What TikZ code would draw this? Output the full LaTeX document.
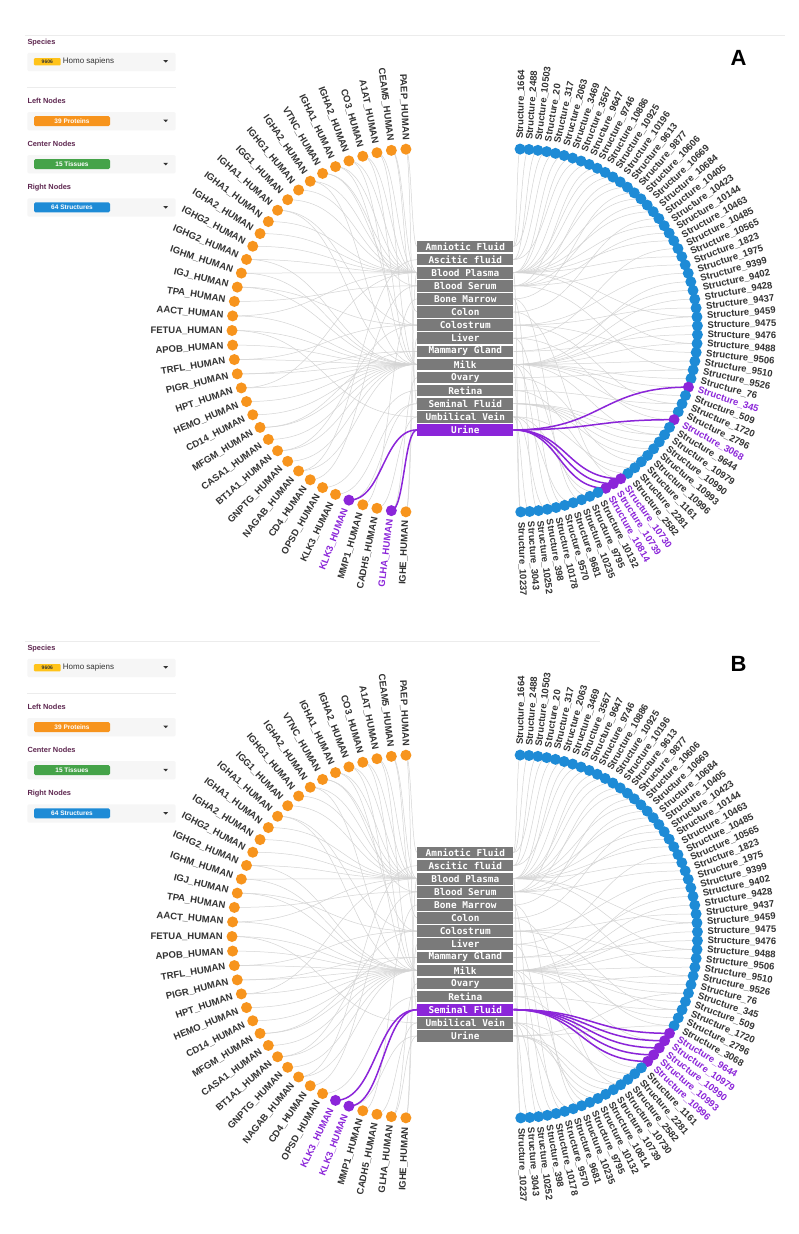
\documentclass[tikz,border=0pt]{standalone}
\usepackage{fontspec}
\setmainfont{Liberation Sans}
\newfontfamily\monofnt{DejaVu Sans Mono}
\usetikzlibrary{calc}
\pgfdeclarelayer{bg}
\pgfdeclarelayer{edges}
\pgfsetlayers{bg,edges,main}

\definecolor{orangeN}{HTML}{F7941D}
\definecolor{blueN}{HTML}{1E8BD6}
\definecolor{purpleN}{HTML}{8B25D9}
\definecolor{greenN}{HTML}{45A349}
\definecolor{boxgray}{HTML}{7A7A7A}
\definecolor{edgegray}{HTML}{D4D4D4}
\definecolor{labcol}{HTML}{333333}
\definecolor{headcol}{HTML}{5E2750}
\definecolor{panelbg}{HTML}{F6F6F6}
\definecolor{tagyellow}{HTML}{FFC31A}
\definecolor{sepcol}{HTML}{ECECEC}

\tikzset{
  gedge/.style={draw=edgegray, line width=0.5pt},
  pedge/.style={draw=purpleN, line width=1.5pt},
  hlink/.style={to path={let \p1=(\tikztostart), \p2=(\tikztotarget) in
      .. controls ({0.5*\x1+0.5*\x2},\y1) and ({0.5*\x1+0.5*\x2},\y2) .. (\tikztotarget)}},
  ndot/.style={circle, inner sep=0pt, minimum size=11pt},
  nlab/.style={inner sep=0pt, font=\bfseries\fontsize{9.5}{10}\selectfont},
  tbox/.style={text=white, inner sep=0pt, minimum width=96pt, minimum height=11.6pt,
      font=\monofnt\bfseries\fontsize{9.4}{10}\selectfont},
  head/.style={anchor=west, inner sep=0pt, text=headcol, font=\bfseries\fontsize{7.4}{8}\selectfont},
  sbox/.style={fill=panelbg, rounded corners=1.5pt, minimum width=148.4pt, minimum height=18.3pt, inner sep=0pt},
  sbar/.style={rounded corners=1.5pt, minimum width=76pt, minimum height=10pt, inner sep=0pt,
      text=white, font=\bfseries\fontsize{6.5}{7}\selectfont},
  tagbox/.style={fill=tagyellow, rounded corners=1pt, minimum width=26.7pt, minimum height=7.3pt, inner sep=0pt,
      text=black!80, font=\bfseries\fontsize{5}{6}\selectfont},
  letter/.style={inner sep=0pt, font=\bfseries\fontsize{22}{23}\selectfont},
  sepline/.style={draw=sepcol, line width=0.8pt}
}

\def\leftnames{PAEP,CEAM5,A1AT,CO3,IGHA2,IGHA1,VTNC,IGHA2,IGHG1,IGG1,IGHA1,IGHA1,IGHA2,IGHG2,IGHG2,IGHM,IGJ,TPA,AACT,FETUA,APOB,TRFL,PIGR,HPT,HEMO,CD14,MFGM,CASA1,BT1A1,GNPTG,NAGAB,CD4,OPSD,KLK3,KLK3,MMP1,CADH5,GLHA,IGHE}
\def\rightnames{1664,2488,10503,20,317,2063,3469,3567,9647,9746,10886,10925,10196,9613,9877,10606,10669,10684,10405,10423,10144,10463,10485,10565,1823,1975,9399,9402,9428,9437,9459,9475,9476,9488,9506,9510,9526,76,345,509,1720,2796,3068,9644,10979,10990,10993,10996,1161,2281,2582,10730,10739,10814,10132,9795,10235,9681,9570,10178,398,10252,3043,10237}
\def\tissuenames{Amniotic Fluid,Ascitic fluid,Blood Plasma,Blood Serum,Bone Marrow,Colon,Colostrum,Liver,Mammary Gland,Milk,Ovary,Retina,Seminal Fluid,Umbilical Vein,Urine}
\def\leftedges{0/12,0/0,1/5,1/2,2/2,2/9,3/2,3/9,4/2,4/9,5/2,5/6,6/2,6/3,7/9,7/2,8/2,9/2,10/6,10/9,11/2,12/2,13/2,14/9,14/2,15/2,15/9,16/9,16/6,17/3,18/2,18/9,19/13,19/9,20/9,21/9,21/6,22/9,22/8,23/2,23/9,24/9,25/9,26/9,26/8,27/9,28/9,28/6,29/9,30/9,30/1,31/3,32/11,33/12,34/14,34/12,35/4,36/13,37/14,37/10,38/2,38/7}
\def\rightedges{0/0,0/1,1/2,0/3,1/4,2/5,2/6,1/7,2/8,3/9,2/10,2/11,3/12,2/13,4/14,2/15,3/16,2/17,5/18,2/19,3/20,2/21,7/22,2/23,3/24,6/25,9/26,8/27,9/28,6/29,9/30,9/31,8/32,9/33,6/34,9/35,10/36,9/37,14/38,9/38,9/39,11/40,9/41,14/42,7/42,12/43,12/44,12/45,12/46,12/47,9/44,10/48,13/49,11/50,14/51,14/52,14/53,5/51,13/54,9/55,4/56,13/57,7/58,9/59,13/60,4/61,13/62,9/63,2/63,2/30,2/33,3/36,6/40}

\makeatletter
\newcommand\drawpanel[9]{%
  % tissues
  \foreach \nn [count=\kk from 0] in \tissuenames {%
    \pgfmathsetmacro\ty{#2+246.5+13.1*\kk}%
    \ifnum\kk=#3\relax\def\bcol{purpleN}\else\def\bcol{boxgray}\fi
    \node[tbox, fill=\bcol] (#1-t-\kk) at (465.3,\ty) {\nn};
  }%
  % left proteins
  \foreach \nn [count=\kk from 0] in \leftnames {%
    \pgfmathsetmacro\ang{92.4+\kk*4.6105}%
    \pgfmathsetmacro\px{413.5+181.5*cos(\ang)}%
    \pgfmathsetmacro\py{#2+330.5-181.5*sin(\ang)}%
    \pgfmathsetmacro\qx{413.5+190.5*cos(\ang)}%
    \pgfmathsetmacro\qy{#2+330.5-190.5*sin(\ang)}%
    \edef\@tmpa{\noexpand\in@{,\kk,}{#4}}\@tmpa
    \ifin@\def\dcol{purpleN}\def\tcol{purpleN}\else\def\dcol{orangeN}\def\tcol{labcol}\fi
    \node[ndot, fill=\dcol] (#1-l-\kk) at (\px,\py) {};
    \node[nlab, text=\tcol, anchor=mid east, rotate=\ang-180] (#1-ll-\kk) at (\qx,\qy) {\nn\_HUMAN};
  }%
  % right structures
  \foreach \nn [count=\kk from 0] in \rightnames {%
    \pgfmathsetmacro\ang{88.7-\kk*2.8127}%
    \pgfmathsetmacro\px{516+181.5*cos(\ang)}%
    \pgfmathsetmacro\py{#2+330.5-181.5*sin(\ang)}%
    \pgfmathsetmacro\qx{516+191.5*cos(\ang)}%
    \pgfmathsetmacro\qy{#2+330.5-191.5*sin(\ang)}%
    \edef\@tmpa{\noexpand\in@{,\kk,}{#5}}\@tmpa
    \ifin@\def\dcol{purpleN}\def\tcol{purpleN}\else\def\dcol{blueN}\def\tcol{labcol}\fi
    \node[ndot, fill=\dcol] (#1-r-\kk) at (\px,\py) {};
    \node[nlab, text=\tcol, anchor=mid west, rotate=\ang] (#1-rl-\kk) at (\qx,\qy) {Structure\_\nn};
  }%
  % connectors
  \begin{pgfonlayer}{edges}
    \foreach \pp/\tq in \leftedges {\draw[gedge] (#1-l-\pp.center) to[hlink] (#1-t-\tq.west);}
    \foreach \tq/\sj in \rightedges {\draw[gedge] (#1-t-\tq.east) to[hlink] (#1-r-\sj.center);}
    \foreach \pp/\tq in {#6} {\draw[pedge] (#1-l-\pp.center) to[hlink] (#1-t-\tq.west);}
    \foreach \tq/\sj in {#7} {\draw[pedge] (#1-t-\tq.east) to[hlink] (#1-r-\sj.center);}
  \end{pgfonlayer}
  % sidebar
  \draw[sepline] (25,35+#2) -- (#9,35+#2);
  \node[head] (#1-h1) at (27.3,42.3+#2) {Species};
  \node[sbox] (#1-b1) at (101.5,61.9+#2) {};
  \node[tagbox] (#1-tag) at (47.3,61.7+#2) {9606};
  \node[anchor=west, inner sep=0pt, text=labcol, font=\fontsize{8}{9}\selectfont] (#1-sp) at (62.7,61.7+#2) {Homo sapiens};
  \fill[black!80] (163.4,60.2+#2) -- (168,60.2+#2) -- (165.7,62.7+#2) -- cycle;
  \draw[sepline] (27.3,87.3+#2) -- (175.7,87.3+#2);
  \node[head] (#1-h2) at (27.3,101.3+#2) {Left Nodes};
  \node[sbox] (#1-b2) at (101.5,121.2+#2) {};
  \node[sbar, fill=orangeN] (#1-bar2) at (72,121+#2) {39 Proteins};
  \fill[black!80] (163.4,119.7+#2) -- (168,119.7+#2) -- (165.7,122.2+#2) -- cycle;
  \node[head] (#1-h3) at (27.3,144.3+#2) {Center Nodes};
  \node[sbox] (#1-b3) at (101.5,164.2+#2) {};
  \node[sbar, fill=greenN] (#1-bar3) at (72,164.2+#2) {15 Tissues};
  \fill[black!80] (163.4,162.9+#2) -- (168,162.9+#2) -- (165.7,165.4+#2) -- cycle;
  \node[head] (#1-h4) at (27.3,187.3+#2) {Right Nodes};
  \node[sbox] (#1-b4) at (101.5,207.5+#2) {};
  \node[sbar, fill=blueN] (#1-bar4) at (72,207.3+#2) {64 Structures};
  \fill[black!80] (163.4,206.2+#2) -- (168,206.2+#2) -- (165.7,208.7+#2) -- cycle;
  \node[letter] (#1-letter) at (738.5,57.5+#2) {#8};
}
\makeatother

\begin{document}
\begin{tikzpicture}[x=1pt,y=-1pt]
\begin{pgfonlayer}{bg}
\fill[white] (0,0) rectangle (798,1234);
\end{pgfonlayer}
\useasboundingbox (0,0) rectangle (798,1234);
\drawpanel{A}{0}{14}{,34,37,}{,38,42,51,52,53,}{34/14,37/14}{14/38,14/42,14/51,14/52,14/53}{A}{785}
\drawpanel{B}{606}{12}{,33,34,}{,43,44,45,46,47,}{33/12,34/12}{12/43,12/44,12/45,12/46,12/47}{B}{600}
\end{tikzpicture}
\end{document}
